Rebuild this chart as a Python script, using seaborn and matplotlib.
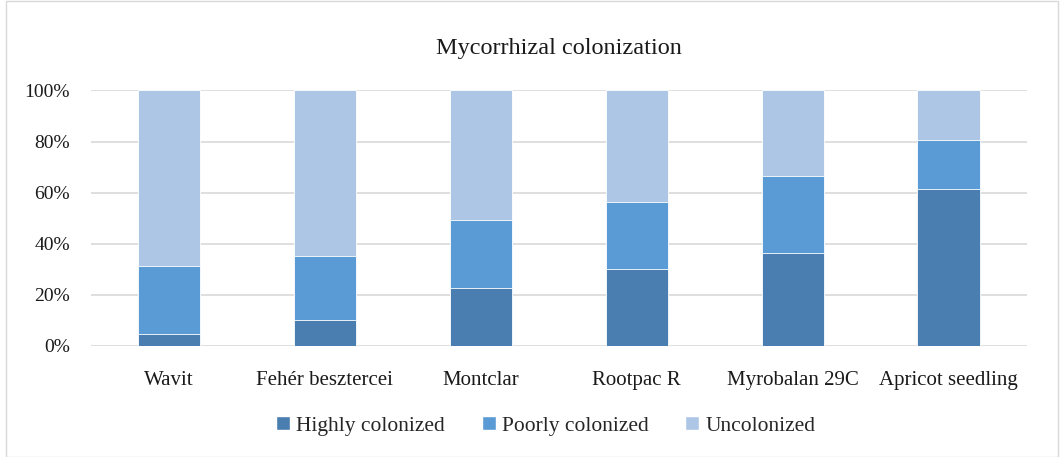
import numpy as np
import pandas as pd
import seaborn as sns
import matplotlib.pyplot as plt
from matplotlib.patches import Patch, Rectangle
from matplotlib.ticker import PercentFormatter

# data (%)
rootstocks = ['Wavit', 'Fehér besztercei', 'Montclar', 'Rootpac R', 'Myrobalan 29C', 'Apricot seedling']
highly = [4.6, 10.3, 22.7, 30.3, 36.5, 61.4]
poorly = [26.7, 25.1, 26.7, 26.1, 30.2, 19.3]
uncolonized = [68.7, 64.6, 50.6, 43.6, 33.3, 19.3]

col_high = '#4A7EB0'
col_poor = '#5B9BD5'
col_unc = '#ADC6E5'

sns.set_theme(style='white')
plt.rcParams['font.family'] = ['Liberation Serif', 'DejaVu Serif']

df = pd.DataFrame({'rootstock': rootstocks, 'highly': highly,
                   'poorly': poorly, 'unc': uncolonized})
df['c1'] = df['highly']
df['c2'] = df['highly'] + df['poorly']
df['c3'] = df['c2'] + df['unc']

fig = plt.figure(figsize=(10.62, 4.57), dpi=100)
ax = fig.add_axes([0.0857, 0.243, 0.881, 0.559])

# stacked: draw cumulative totals from the top layer down
for col, color in [('c3', col_unc), ('c2', col_poor), ('c1', col_high)]:
    sns.barplot(data=df, x='rootstock', y=col, color=color, width=0.4,
                edgecolor='white', linewidth=0.6, saturation=1, ax=ax)

ax.set_ylim(0, 100)
ax.set_yticks([0, 20, 40, 60, 80, 100])
ax.yaxis.set_major_formatter(PercentFormatter(decimals=0))
ax.set_xlim(-0.5, 5.5)
ax.grid(axis='y', color='#D9D9D9', linewidth=1.2)
ax.set_axisbelow(True)
for s in ax.spines.values():
    s.set_visible(False)
ax.set_xlabel('')
ax.set_ylabel('')
ax.tick_params(axis='both', length=0, colors='#1a1a1a')
ax.tick_params(axis='y', pad=15, labelsize=14)
ax.tick_params(axis='x', pad=18, labelsize=15)

ax.set_title('Mycorrhizal colonization', fontsize=17.5, pad=26, color='#1a1a1a')

handles = [Patch(facecolor=col_high, label='Highly colonized'),
           Patch(facecolor=col_poor, label='Poorly colonized'),
           Patch(facecolor=col_unc, label='Uncolonized')]
fig.legend(handles=handles, loc='center', bbox_to_anchor=(0.514, 0.068), ncol=3,
           frameon=False, fontsize=15.5, handlelength=0.65, handleheight=0.65,
           handletextpad=0.3, columnspacing=1.7)

# chart-area border
fig.add_artist(Rectangle((0.006, 0.0), 0.99, 0.997, transform=fig.transFigure,
                         fill=False, edgecolor='#D9D9D9', linewidth=1))

fig.savefig('out.png', dpi=100)
